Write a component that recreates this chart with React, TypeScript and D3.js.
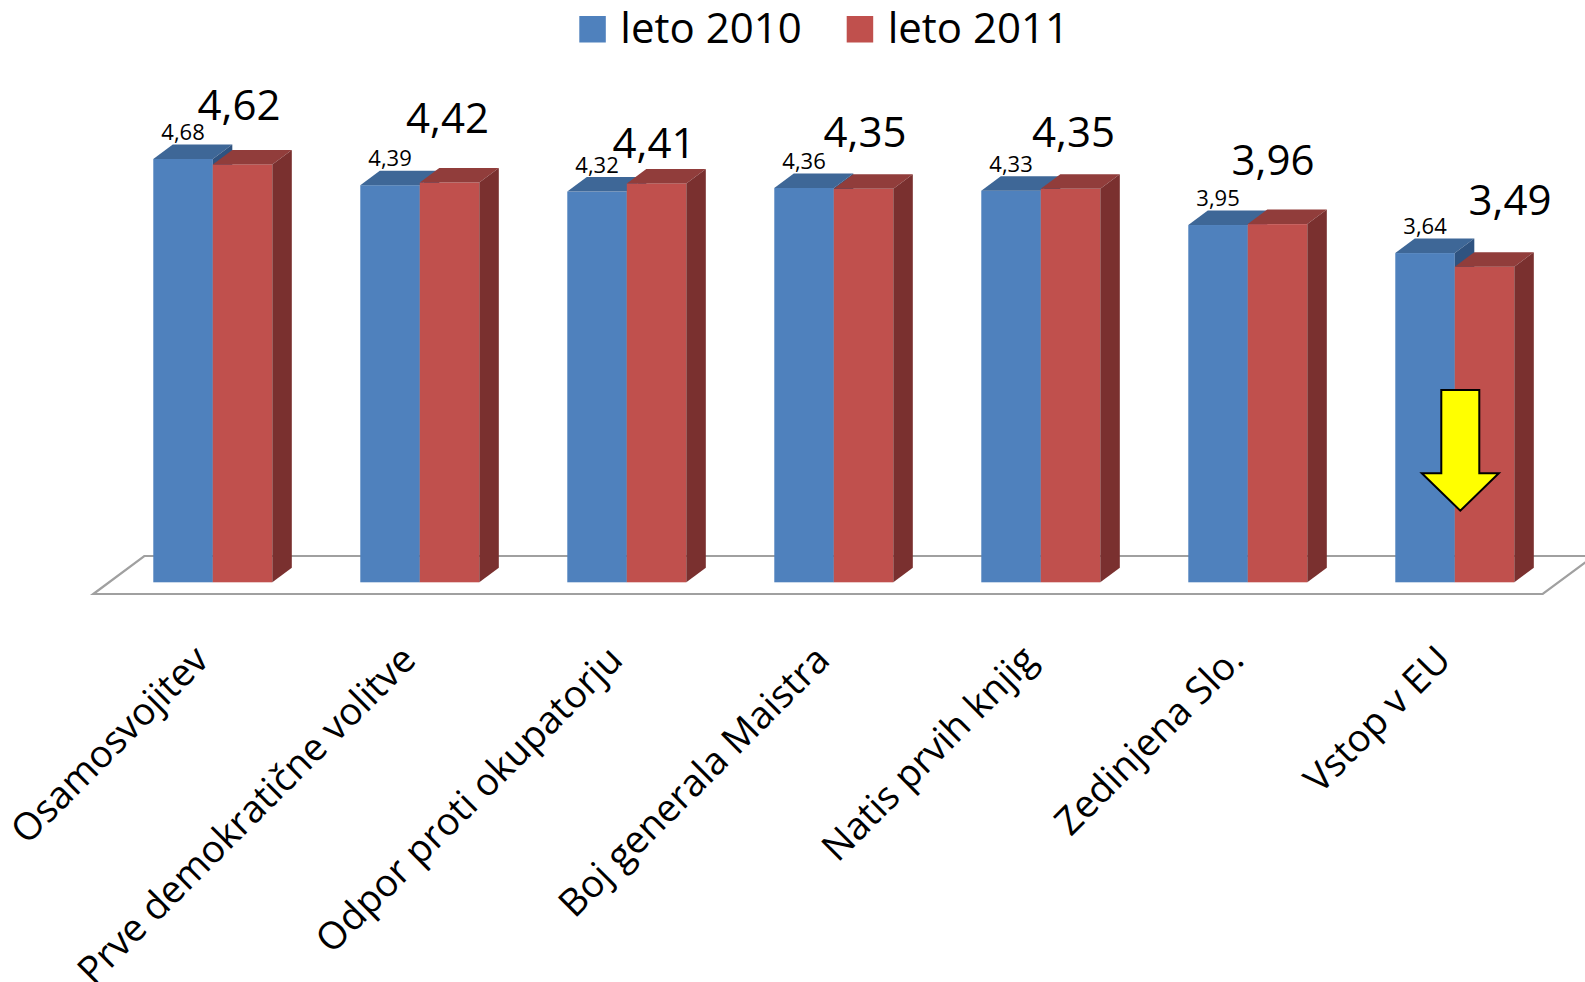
import React from "react";
import * as d3 from "d3";

const categories = [
  "Osamosvojitev",
  "Prve demokratične volitve",
  "Odpor proti okupatorju",
  "Boj generala Maistra",
  "Natis prvih knjig",
  "Zedinjena Slo.",
  "Vstop v EU",
];
const seriesNames = ["leto 2010", "leto 2011"];
const values2010 = [4.68, 4.39, 4.32, 4.36, 4.33, 3.95, 3.64];
const values2011 = [4.62, 4.42, 4.41, 4.35, 4.35, 3.96, 3.49];
// hand-placed big labels for 2011 (offset from the bar's top-front centre)
const bigLabelDx = [-3.5, -2, -2.5, 1.5, 3, -4.5, 25.5];
const bigLabelDy = [44, 50, 25, 42, 42, 49, 52];

const W = 1585;
const H = 982;
const FONT = "'Open Sans', sans-serif";

const colors = {
  front: ["#4F81BD", "#C0504D"],
  top: ["#3E6797", "#913D3B"],
  side: ["#2F5380", "#7A302F"],
};

const fmt = (v: number) => v.toFixed(2).replace(".", ",");

export default function App() {
  const x = d3
    .scaleBand<string>()
    .domain(categories)
    .range([109.3, 109.3 + 207 * 7])
    .paddingInner(0.425)
    .paddingOuter(0.2125);
  const xs = d3.scaleBand<number>().domain([0, 1]).range([0, x.bandwidth()]);
  const y = d3.scaleLinear().domain([0, 5]).range([582.3, 582.3 - 90.45 * 5]);
  const DX = 19.5;
  const DY = 14.5;
  const y0 = y(0);

  const floorPts = [
    [93.3, 594],
    [144.3, 556],
    [1594, 556],
    [1542.7, 594],
  ];

  const bar = (cx: number, w: number, v: number, s: number, key: string) => {
    const yt = y(v);
    const xr = cx + w;
    return (
      <g key={key}>
        <rect x={cx} y={yt} width={w} height={y0 - yt} fill={colors.front[s]} />
        <path
          d={`M${cx},${yt}L${cx + DX},${yt - DY}L${xr + DX},${yt - DY}L${xr},${yt}Z`}
          fill={colors.top[s]}
        />
        <path
          d={`M${xr},${yt}L${xr + DX},${yt - DY}L${xr + DX},${y0 - DY}L${xr},${y0}Z`}
          fill={colors.side[s]}
        />
      </g>
    );
  };

  const last = categories[categories.length - 1];
  const ax = (x(last) as number) + xs.bandwidth() + 5.5;
  const arrowTop = 390;
  const arrowNeck = 473.3;
  const arrowTip = 510.7;
  const arrowPts = [
    [ax - 19, arrowTop],
    [ax + 19, arrowTop],
    [ax + 19, arrowNeck],
    [ax + 38.5, arrowNeck],
    [ax, arrowTip],
    [ax - 38.5, arrowNeck],
    [ax - 19, arrowNeck],
  ];

  return (
    <svg
      width={W}
      height={H}
      style={{ position: "absolute", left: 0, top: 0, background: "#fff" }}
      fontFamily={FONT}
    >
      <rect width={W} height={H} fill="#fff" />
      {/* legend */}
      {seriesNames.map((n, i) => {
        const lx = [579.3, 846.7][i];
        return (
          <g key={n}>
            <rect x={lx} y={16} width={26.5} height={26.5} fill={colors.front[i]} />
            <text x={lx + 41} y={42.7} fontSize={42} fill="#000">
              {n}
            </text>
          </g>
        );
      })}
      {/* floor */}
      <polygon
        points={floorPts.map((p) => p.join(",")).join(" ")}
        fill="#fff"
        stroke="#A0A0A0"
        strokeWidth={2.2}
      />
      {/* bars */}
      {categories.map((c, i) => {
        const gx = x(c) as number;
        return (
          <g key={c}>
            {bar(gx + (xs(0) as number), xs.bandwidth(), values2010[i], 0, "a")}
            {bar(gx + (xs(1) as number), xs.bandwidth(), values2011[i], 1, "b")}
          </g>
        );
      })}
      {/* small labels 2010 */}
      {categories.map((c, i) => {
        const cx = (x(c) as number) + (xs(0) as number) + xs.bandwidth() / 2;
        return (
          <text
            key={"s" + c}
            x={cx}
            y={y(values2010[i]) - 19}
            fontSize={22}
            textAnchor="middle"
            fill="#000"
          >
            {fmt(values2010[i])}
          </text>
        );
      })}
      {/* big labels 2011 */}
      {categories.map((c, i) => {
        const cx = (x(c) as number) + (xs(1) as number) + xs.bandwidth() / 2;
        return (
          <text
            key={"b" + c}
            x={cx + bigLabelDx[i]}
            y={y(values2011[i]) - bigLabelDy[i]}
            fontSize={42}
            textAnchor="middle"
            fill="#000"
          >
            {fmt(values2011[i])}
          </text>
        );
      })}
      {/* arrow */}
      <polygon
        points={arrowPts.map((p) => p.join(",")).join(" ")}
        fill="#FFFF00"
        stroke="#000"
        strokeWidth={2}
        strokeLinejoin="miter"
      />
      {/* category labels */}
      {categories.map((c) => {
        const cx = (x(c) as number) + x.bandwidth() / 2;
        const ly = 662;
        return (
          <text
            key={"c" + c}
            transform={`translate(${cx - 2},${ly}) rotate(-45)`}
            textAnchor="end"
            fontSize={38}
            fill="#000"
          >
            {c}
          </text>
        );
      })}
    </svg>
  );
}
